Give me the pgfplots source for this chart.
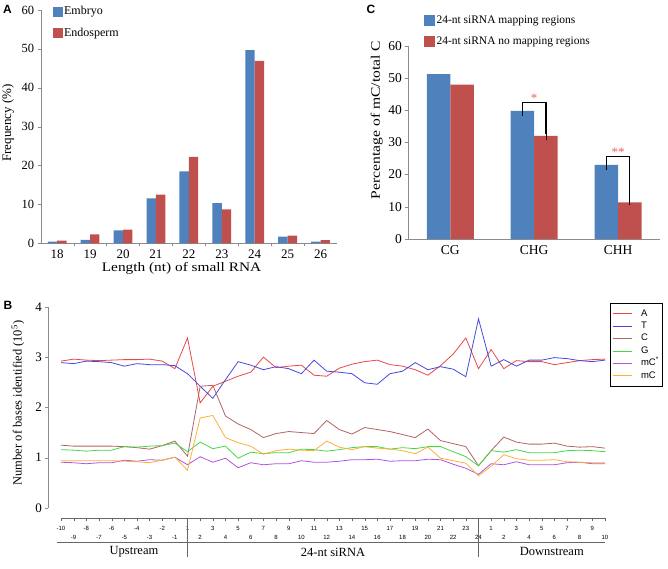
\documentclass[border=0pt]{standalone}
\usepackage{graphicx}
\usepackage{pgfplots}
\pgfplotsset{compat=1.18}
\usepackage{fontspec}
\setmainfont{Liberation Serif}
\newfontfamily\arial{Liberation Sans}
\definecolor{xblue}{HTML}{4F81BD}
\definecolor{xred}{HTML}{C0504D}
\definecolor{lA}{RGB}{232,72,72}
\definecolor{lT}{RGB}{72,72,222}
\definecolor{lC}{RGB}{176,100,100}
\definecolor{lG}{RGB}{70,215,70}
\definecolor{lM}{RGB}{175,85,230}
\definecolor{lO}{RGB}{255,175,55}
\definecolor{axgray}{RGB}{140,140,140}
\definecolor{stc}{RGB}{240,95,95}
\newcommand\fs[1]{\fontsize{#1}{#1}\selectfont}
\begin{document}
\begin{tikzpicture}[x=1pt,y=1pt]
\useasboundingbox (0,0) rectangle (668,568);

% ---------------- Panel A ----------------
\begin{axis}[
  at={(40.7pt,324.7pt)}, anchor=south west,
  scale only axis, width=296.3pt, height=233.3pt,
  xmin=17.5, xmax=26.5, ymin=0, ymax=60,
  xtick={18,...,26}, minor xtick={18.5,19.5,...,25.5},
  ytick={0,10,...,60},
  axis x line*=bottom, axis y line*=left,
  axis line style={axgray,-},
  tick style={axgray}, tick align=outside,
  major tick length=3pt, minor tick length=3pt,
  major x tick style={draw=none},
  /pgf/number format/assume math mode=true,
  x tick label style={font=\fs{13}},
  y tick label style={font=\fs{12.5}},
  legend style={at={(axis description cs:0.04,1.025)}, anchor=north west,
     draw=none, fill=none, font=\fs{12}, row sep=8pt, inner sep=0pt,
     nodes={inner sep=2pt}},
  legend cell align=left,
  clip=false,
]
\addplot[ybar, bar width=9.4pt, bar shift=-4.7pt, fill=xblue, draw=none, forget plot]
  coordinates {(18,0.45) (19,0.9) (20,3.3) (21,11.55) (22,18.5) (23,10.3) (24,49.7) (25,1.7) (26,0.45)};
\addplot[ybar, bar width=9.4pt, bar shift=4.7pt, fill=xred, draw=none, forget plot]
  coordinates {(18,0.7) (19,2.3) (20,3.5) (21,12.5) (22,22.2) (23,8.7) (24,46.9) (25,2.0) (26,0.8)};
\addlegendimage{legend image code/.code={\fill[xblue] (0pt,-4.5pt) rectangle (9pt,4.5pt);}}
\addlegendentry{Embryo}
\addlegendimage{legend image code/.code={\fill[xred] (0pt,-4.5pt) rectangle (9pt,4.5pt);}}
\addlegendentry{Endosperm}
\end{axis}
\node[font=\fs{13}] at (181.5,299.5) {\scalebox{1.18}[1]{Length (nt) of small RNA}};
\node[font=\fs{13}, rotate=90] at (8,445) {Frequency (\%)};
\node[font=\arial\bfseries\fs{12}] at (7.5,559) {A};

% ---------------- Panel C ----------------
\begin{axis}[
  at={(408.3pt,329pt)}, anchor=south west,
  scale only axis, width=251.7pt, height=193.3pt,
  xmin=-0.5, xmax=2.5, ymin=0, ymax=60,
  xtick={0,1,2}, xticklabels={CG,CHG,CHH},
  ytick={0,10,...,60},
  axis x line*=bottom, axis y line*=left,
  axis line style={axgray,-},
  tick style={axgray}, tick align=outside, major tick length=3pt,
  major x tick style={draw=none},
  /pgf/number format/assume math mode=true,
  x tick label style={font=\fs{13.5}},
  y tick label style={font=\fs{13.5}},
  legend style={at={(axis description cs:0.062,1.165)}, anchor=north west,
     draw=none, fill=none, font=\fs{11.5}, row sep=8pt, inner sep=0pt,
     nodes={inner sep=2pt}},
  legend cell align=left,
  clip=false,
]
\addplot[ybar, bar width=23.5pt, bar shift=-11.75pt, fill=xblue, draw=none, forget plot]
  coordinates {(0,51.2) (1,39.8) (2,23.0)};
\addplot[ybar, bar width=23.5pt, bar shift=11.75pt, fill=xred, draw=none, forget plot]
  coordinates {(0,47.9) (1,32.0) (2,11.4)};
% error bars (upper only) at the bar centres
\addplot[draw=none, mark=none, forget plot,
  error bars/.cd, y dir=plus, y explicit,
  error bar style={draw=black, line width=0.7pt},
  error mark options={draw=black, line width=0.7pt, mark size=6.5pt}]
  coordinates {(0.86,39.8) +- (0,0.5) (1.86,23.0) +- (0,0.5)};
\addplot[draw=none, mark=none, forget plot,
  error bars/.cd, y dir=plus, y explicit,
  error bar style={draw=black, line width=0.7pt},
  error mark options={draw=black, line width=0.7pt, mark size=6pt}]
  coordinates {(1.14,32.0) +- (0,0.5) (2.14,11.4) +- (0,0.9)};
\addlegendimage{legend image code/.code={\fill[xblue] (0pt,-5pt) rectangle (10pt,5pt);}}
\addlegendentry{24-nt siRNA mapping regions}
\addlegendimage{legend image code/.code={\fill[xred] (0pt,-5pt) rectangle (10pt,5pt);}}
\addlegendentry{24-nt siRNA no mapping regions}
\draw[line width=1.2pt] (axis cs:0.86,40.3) -- (axis cs:0.86,42.3) -- (axis cs:1.14,42.3) -- (axis cs:1.14,32.5);
\draw[line width=1.2pt] (axis cs:1.86,23.5) -- (axis cs:1.86,25.5) -- (axis cs:2.14,25.5) -- (axis cs:2.14,12.3);
\node[text=stc, font=\fs{13}] at (axis cs:1.0,43.6) {*};
\node[text=stc, font=\fs{13}] at (axis cs:2.0,27.0) {**};
\end{axis}
\node[font=\fs{13}, rotate=90] at (376.7,448) {\scalebox{1.2}[1]{Percentage of mC/total C}};
\node[font=\arial\bfseries\fs{12}] at (371,559) {C};

% ---------------- Panel B ----------------
\begin{axis}[
  at={(48.35pt,60pt)}, anchor=south west,
  scale only axis, width=556.65pt, height=201.2pt,
  xmin=-1, xmax=43, ymin=0, ymax=4,
  axis x line=none, axis y line*=left,
  axis line style={axgray,-},
  ytick={0,...,4}, tick align=outside, major tick length=3pt, tick style={axgray},
  /pgf/number format/assume math mode=true,
  y tick label style={font=\fs{13}},
  legend style={at={(axis description cs:1,1)}, anchor=north west, xshift=5pt, yshift=4pt,
     draw=black, fill=white, font=\arial\fs{9.5}, row sep=1pt,
     inner xsep=2pt, inner ysep=5pt, column sep=8pt,
     nodes={inner sep=1pt, text height=7pt, text depth=2.4pt}},
  legend image code/.code={\draw[#1] (0pt,0pt) -- (19pt,0pt);},
  legend cell align=left,
  clip=false,
  every axis plot/.append style={line width=0.8pt},
]
\addplot[lA] coordinates {(0,2.92) (1,2.96) (2,2.94) (3,2.93) (4,2.94) (5,2.95) (6,2.95) (7,2.96) (8,2.92) (9,2.77) (10,3.38) (11,2.09) (12,2.42) (13,2.52) (14,2.62) (15,2.70) (16,3.00) (17,2.79) (18,2.82) (19,2.84) (20,2.64) (21,2.62) (22,2.78) (23,2.86) (24,2.91) (25,2.94) (26,2.85) (27,2.82) (28,2.75) (29,2.64) (30,2.83) (31,3.06) (32,3.38) (33,2.77) (34,3.15) (35,2.77) (36,2.93) (37,2.91) (38,2.91) (39,2.85) (40,2.89) (41,2.93) (42,2.95) (43,2.96)};
\addlegendentry{A}
\addplot[lT] coordinates {(0,2.89) (1,2.87) (2,2.92) (3,2.91) (4,2.89) (5,2.82) (6,2.87) (7,2.85) (8,2.85) (9,2.83) (10,2.67) (11,2.42) (12,2.18) (13,2.55) (14,2.91) (15,2.84) (16,2.75) (17,2.81) (18,2.77) (19,2.67) (20,2.94) (21,2.72) (22,2.70) (23,2.67) (24,2.49) (25,2.46) (26,2.67) (27,2.72) (28,2.89) (29,2.75) (30,2.81) (31,2.76) (32,2.61) (33,3.76) (34,2.82) (35,2.95) (36,2.82) (37,2.94) (38,2.94) (39,2.99) (40,2.97) (41,2.93) (42,2.91) (43,2.94)};
\addlegendentry{T}
\addplot[lC] coordinates {(0,1.25) (1,1.23) (2,1.23) (3,1.23) (4,1.23) (5,1.22) (6,1.20) (7,1.17) (8,1.24) (9,1.33) (10,1.03) (11,2.42) (12,2.44) (13,1.83) (14,1.67) (15,1.56) (16,1.40) (17,1.48) (18,1.52) (19,1.50) (20,1.48) (21,1.74) (22,1.56) (23,1.47) (24,1.60) (25,1.56) (26,1.52) (27,1.46) (28,1.40) (29,1.57) (30,1.34) (31,1.28) (32,1.22) (33,0.84) (34,1.14) (35,1.41) (36,1.31) (37,1.27) (38,1.27) (39,1.29) (40,1.23) (41,1.21) (42,1.22) (43,1.19)};
\addlegendentry{C}
\addplot[lG] coordinates {(0,1.16) (1,1.15) (2,1.13) (3,1.15) (4,1.15) (5,1.22) (6,1.21) (7,1.23) (8,1.24) (9,1.29) (10,1.12) (11,1.31) (12,1.18) (13,1.23) (14,0.99) (15,1.11) (16,1.08) (17,1.10) (18,1.10) (19,1.17) (20,1.16) (21,1.13) (22,1.16) (23,1.20) (24,1.22) (25,1.22) (26,1.17) (27,1.20) (28,1.18) (29,1.22) (30,1.22) (31,1.12) (32,1.02) (33,0.84) (34,1.14) (35,1.11) (36,1.16) (37,1.10) (38,1.10) (39,1.10) (40,1.14) (41,1.15) (42,1.14) (43,1.12)};
\addlegendentry{G}
\addplot[lM] coordinates {(0,0.91) (1,0.90) (2,0.88) (3,0.90) (4,0.90) (5,0.95) (6,0.93) (7,0.96) (8,0.95) (9,1.01) (10,0.86) (11,1.02) (12,0.91) (13,0.99) (14,0.80) (15,0.90) (16,0.86) (17,0.88) (18,0.88) (19,0.94) (20,0.91) (21,0.91) (22,0.93) (23,0.96) (24,0.96) (25,0.97) (26,0.93) (27,0.94) (28,0.94) (29,0.97) (30,0.96) (31,0.87) (32,0.79) (33,0.67) (34,0.88) (35,0.86) (36,0.92) (37,0.86) (38,0.86) (39,0.86) (40,0.90) (41,0.91) (42,0.88) (43,0.88)};
\addlegendentry{mC\textsuperscript{*}}
\addplot[lO] coordinates {(0,0.94) (1,0.94) (2,0.94) (3,0.94) (4,0.94) (5,0.93) (6,0.92) (7,0.90) (8,0.95) (9,1.01) (10,0.75) (11,1.79) (12,1.84) (13,1.40) (14,1.30) (15,1.23) (16,1.07) (17,1.14) (18,1.17) (19,1.15) (20,1.14) (21,1.33) (22,1.21) (23,1.16) (24,1.22) (25,1.19) (26,1.17) (27,1.14) (28,1.08) (29,1.21) (30,0.99) (31,0.94) (32,0.89) (33,0.64) (34,0.83) (35,1.06) (36,0.98) (37,0.95) (38,0.95) (39,0.96) (40,0.92) (41,0.91) (42,0.90) (43,0.90)};
\addlegendentry{mC}
\end{axis}
\node[font=\fs{12.5}, rotate=90] at (18,165) {Number of bases identified (10\textsuperscript{5})};
\node[font=\arial\bfseries\fs{12}] at (8,263) {B};

% bottom category axis of panel B
\begin{axis}[
  at={(61pt,50pt)}, anchor=south west,
  scale only axis, width=543.95pt, height=10pt,
  xmin=0, xmax=43, ymin=0, ymax=1,
  axis x line*=bottom, axis y line=none,
  axis line style={black!60,-},
  xtick={0,2,...,42},
  xticklabels={-10,-8,-6,-4,-2,1,3,5,7,9,11,13,15,17,19,21,23,1,3,5,7,9},
  extra x ticks={1,3,...,43},
  extra x tick labels={-9,-7,-5,-3,-1,2,4,6,8,10,12,14,16,18,20,22,24,2,4,6,8,10},
  extra x tick style={tick label style={yshift=-9pt}},
  tick align=outside, major tick length=3.3pt, tick style={black!60},
  x tick label style={font=\arial\fs{6}, yshift=-1.5pt},
  clip=false,
]
\draw[black!60] (axis cs:-0.32,-2.37) -- (axis cs:43,-2.37);
\draw[black!60] (axis cs:10,0) -- (axis cs:10,-3.9);
\draw[black!60] (axis cs:33,0) -- (axis cs:33,-3.9);
\node[font=\fs{12.5}] at (axis cs:5.77,-3.4) {Upstream};
\node[font=\fs{12.5}] at (axis cs:21.5,-3.4) {24-nt siRNA};
\node[font=\fs{12.5}] at (axis cs:38.8,-3.3) {Downstream};
\end{axis}
\end{tikzpicture}
\end{document}
